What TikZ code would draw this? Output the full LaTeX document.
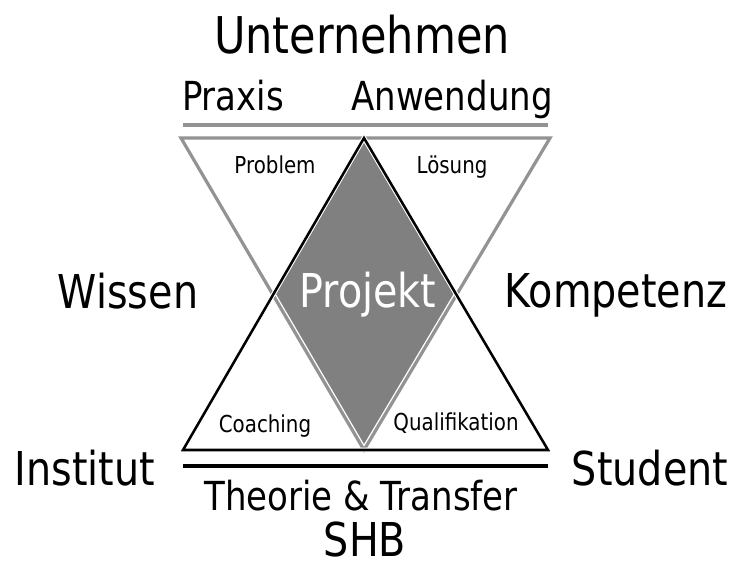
\documentclass[tikz,border=0pt]{standalone}
\usepackage{fontspec}
\setmainfont{DejaVu Sans}[FakeStretch=0.85]
\usetikzlibrary{calc}

\begin{document}
\begin{tikzpicture}[x=0.75pt,y=-0.75pt,
		every node/.style={inner sep=0pt,anchor=base},
		head/.style={font=\fontsize{38}{40}\selectfont},
		corner/.style={font=\fontsize{35}{37}\selectfont},
		mid/.style={font=\fontsize{30}{32}\selectfont},
		small/.style={font=\fontsize{17.5}{19}\selectfont},
		grey edge/.style={draw=white,double=gray!85,line width=1pt,double distance=2.4pt,line join=miter},
		black edge/.style={draw=white,double=black,line width=0.8pt,double distance=1.9pt,line join=miter},
	]
	\useasboundingbox (0,0) rectangle (738,569);
	% corners of the two triangles
	\coordinate (gl) at (181,138);
	\coordinate (gr) at (550,138);
	\coordinate (gb) at (364,450);
	\coordinate (bl) at (183,450);
	\coordinate (br) at (548,450);
	\coordinate (bt) at (364,138);
	\coordinate (dl) at ($(gl)!0.5!(gb)$);
	\coordinate (dr) at ($(gr)!0.5!(gb)$);
	% bars
	\coordinate (ul) at (183,125);
	\coordinate (ur) at (548,125);
	\coordinate (ll) at (183,466);
	\coordinate (lr) at (548,466);
	%
	\fill[gray] (bt) -- (dr) -- (gb) -- (dl) -- cycle;
	\draw[grey edge] (gl) -- (gr) -- (gb) -- cycle;
	\draw[black edge] (bl) -- (br) -- (bt) -- cycle;
	\draw[gray!85,line width=3pt] (ul) -- (ur);
	\draw[black,line width=3.2pt] (ll) -- (lr);
	%
	\node[head] (unt) at (362,53) {Unternehmen};
	\node[mid] (prx) at (233,110) {Praxis};
	\node[mid] (anw) at (452,110) {Anwendung};
	\node[corner] (wis) at (128,308) {Wissen};
	\node[corner] (kom) at (616,307) {Kompetenz};
	\node[corner] (ins) at (85,485) {Institut};
	\node[corner] (stu) at (650,485) {Student};
	\node[mid] (the) at (361,510) {Theorie \& Transfer};
	\node[corner] (shb) at (365,556) {SHB};
	\node[corner,text=white] (pro) at (368,307) {Projekt};
	\node[small] (prb) at (275,173) {Problem};
	\node[small] (loe) at (452,173) {Lösung};
	\node[small] (coa) at (265,432) {Coaching};
	\node[small] (qua) at (456,430) {Qualifikation};
\end{tikzpicture}
\end{document}
